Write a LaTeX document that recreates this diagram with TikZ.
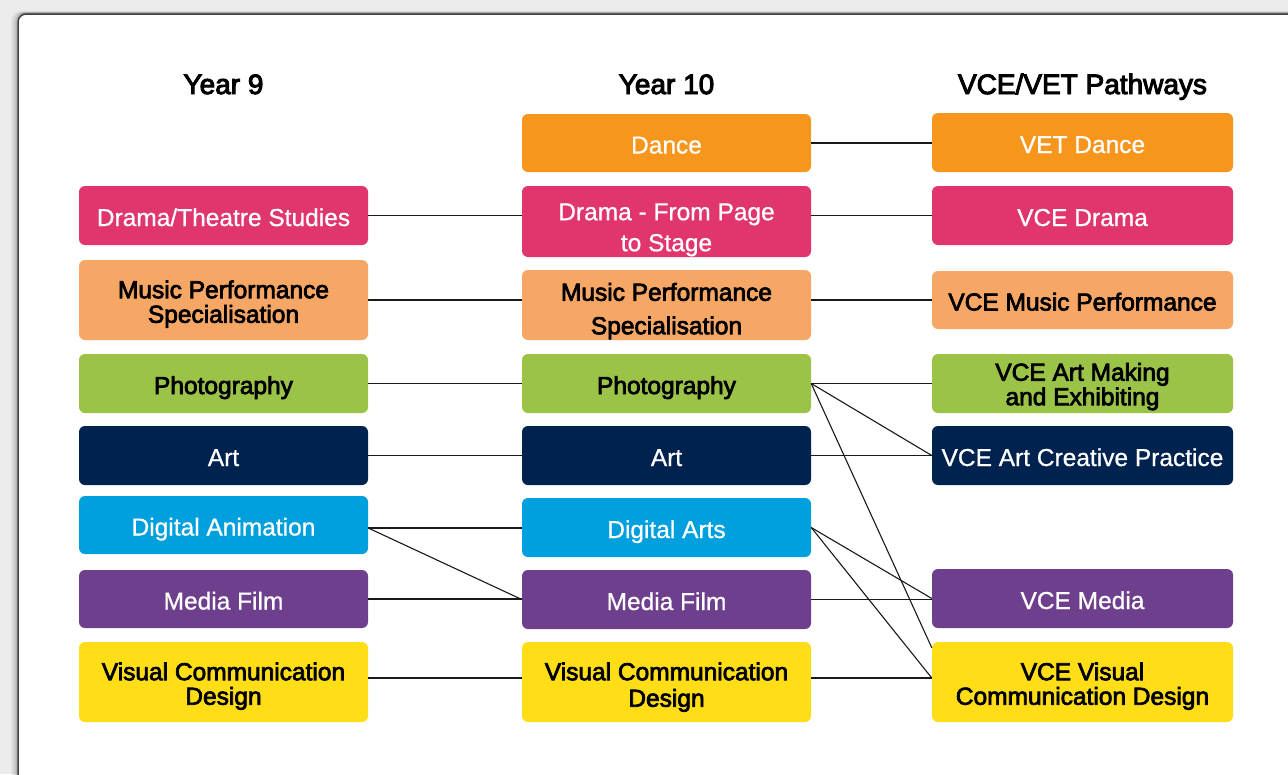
\documentclass[tikz,border=0pt]{standalone}
\usepackage{fontspec}
\setmainfont{Liberation Sans}
\newfontfamily\medfont[FakeBold=3]{Liberation Sans}
\newfontfamily\litefont[FakeBold=0.8]{Liberation Sans}
\newfontfamily\headfont[FakeBold=3.5]{Liberation Sans}
\usetikzlibrary{calc}
\newcommand{\tp}[1]{\rule{0pt}{#1pt}}
\definecolor{bg}{HTML}{EBEBEB}
\definecolor{cOrange}{HTML}{F7961D}
\definecolor{cPink}{HTML}{E0366D}
\definecolor{cPeach}{HTML}{F7A765}
\definecolor{cGreen}{HTML}{9BC347}
\definecolor{cNavy}{HTML}{00224F}
\definecolor{cCyan}{HTML}{009FDE}
\definecolor{cPurple}{HTML}{6E3F8C}
\definecolor{cYellow}{HTML}{FFDE17}
\tikzset{
  box/.style={rounded corners=6pt, inner sep=0pt, minimum width=289pt, minimum height=59pt},
  one/.style={text height=21pt, text depth=0pt},
  ml/.style={align=center},
  wide/.style={minimum width=301pt},
  wt/.style={text=white, font=\litefont\fontsize{24.5}{25}\selectfont},
  bt/.style={text=black, font=\medfont\fontsize{24.5}{24.5}\selectfont},
  head/.style={font=\headfont\fontsize{28}{30}\selectfont, text=black, text height=20pt, text depth=0pt},
  link/.style={draw=black!90, line width=1.1pt},
}
\begin{document}
\begin{tikzpicture}[x=1pt,y=-1pt]
\useasboundingbox (0,0) rectangle (1288,774);
\begin{scope}
\clip (0,0) rectangle (1288,774);
\fill[bg] (0,0) rectangle (1288,774);
\foreach \i/\o in {6/0.03,5/0.04,4/0.05,3/0.07,2/0.1,1/0.14}{
  \draw[black, opacity=\o, line width=2pt, rounded corners=9pt] (18-\i,14-\i*0.3) rectangle (1320,800);
}
\draw[fill=white, draw=black!75, line width=1.5pt, rounded corners=8pt] (18,14) rectangle (1320,800);
\end{scope}

% headers
\node[head] (h1) at (223.5,84) {Year 9};
\node[head] (h2) at (666.5,84) {Year 10};
\node[head] (h3) at (1082.5,84) {VCE/VET Pathways};

% column 1
\node[box, one, fill=cPink, wt] (dr1) at (223.5,215.5) {Drama/Theatre Studies};
\node[box, ml, fill=cPeach, bt, minimum height=80pt] (mu1) at (223.5,300) {\tp{26}Music Performance\\Specialisation};
\node[box, one, fill=cGreen, bt] (ph1) at (223.5,383.5) {Photography};
\node[box, one, fill=cNavy, wt] (ar1) at (223.5,455.5) {Art};
\node[box, one, fill=cCyan, wt, minimum height=58pt] (da1) at (223.5,525) {Digital Animation};
\node[box, one, fill=cPurple, wt, minimum height=58pt] (mf1) at (223.5,599) {Media Film};
\node[box, ml, fill=cYellow, bt, minimum height=80pt] (vc1) at (223.5,682) {\tp{26}Visual Communication\\Design};

% column 2
\node[box, one, fill=cOrange, wt, minimum height=58pt] (dn2) at (666.5,143) {Dance};
\node[box, ml, fill=cPink, wt, minimum height=71pt] (dr2) at (666.5,221.5) {\tp{33.5}Drama - From Page\\[6pt]to Stage};
\node[box, ml, fill=cPeach, bt, minimum height=70pt] (mu2) at (666.5,305) {\tp{30}Music Performance\\[9pt]Specialisation};
\node[box, one, fill=cGreen, bt] (ph2) at (666.5,383.5) {Photography};
\node[box, one, fill=cNavy, wt] (ar2) at (666.5,455.5) {Art};
\node[box, one, fill=cCyan, wt] (da2) at (666.5,527.5) {Digital Arts};
\node[box, one, fill=cPurple, wt] (mf2) at (666.5,599.5) {Media Film};
\node[box, ml, fill=cYellow, bt, minimum height=80pt] (vc2) at (666.5,682) {\tp{28}Visual Communication\\[2pt]Design};

% column 3
\node[box, one, wide, fill=cOrange, wt] (dn3) at (1082.5,142.5) {VET Dance};
\node[box, one, wide, fill=cPink, wt] (dr3) at (1082.5,215.5) {VCE Drama};
\node[box, one, wide, fill=cPeach, bt, minimum height=58pt] (mu3) at (1082.5,300) {VCE Music Performance};
\node[box, ml, wide, fill=cGreen, bt] (ph3) at (1082.5,383.5) {\tp{24}VCE Art Making\\and Exhibiting};
\node[box, one, wide, fill=cNavy, wt] (ar3) at (1082.5,455.5) {VCE Art Creative Practice};
\node[box, one, wide, fill=cPurple, wt] (vm3) at (1082.5,598.5) {VCE Media};
\node[box, ml, wide, fill=cYellow, bt, minimum height=80pt] (vc3) at (1082.5,682) {\tp{26}VCE Visual\\Communication Design};

% connectors
\draw[link] (dn2.east) -- (dn2.east -| dn3.west);
\draw[link] (dr1.east) -- (dr1.east -| dr2.west);
\draw[link] (dr1.east -| dr2.east) -- (dr3.west);
\draw[link] (mu1.east) -- (mu1.east -| mu2.west);
\draw[link] (mu1.east -| mu2.east) -- (mu3.west);
\draw[link] (ph1.east) -- (ph2.west);
\draw[link] (ph2.east) -- (ph3.west);
\draw[link] (ph2.east) -- (ar3.west);
\draw[link] (ph2.east) -- ($(vc3.north west)+(0,6)$);
\draw[link] (ar1.east) -- (ar2.west);
\draw[link] (ar2.east) -- (ar3.west);
\draw[link] ($(da1.east)+(0,3)$) -- ($(da1.east -| da2.west)+(0,3)$);
\draw[link] ($(da1.east)+(0,3)$) -- (mf2.west);
\draw[link] (mf1.east) -- (mf1.east -| mf2.west);
\draw[link] (mf2.east) -- (mf2.east -| vm3.west);
\draw[link] (da2.east) -- (vm3.west);
\draw[link] (da2.east) -- ($(vc3.west)+(0,-4)$);
\draw[link] ($(vc1.east)+(0,-4)$) -- ($(vc2.west)+(0,-4)$);
\draw[link] ($(vc2.east)+(0,-4)$) -- ($(vc3.west)+(0,-4)$);
\end{tikzpicture}
\end{document}
